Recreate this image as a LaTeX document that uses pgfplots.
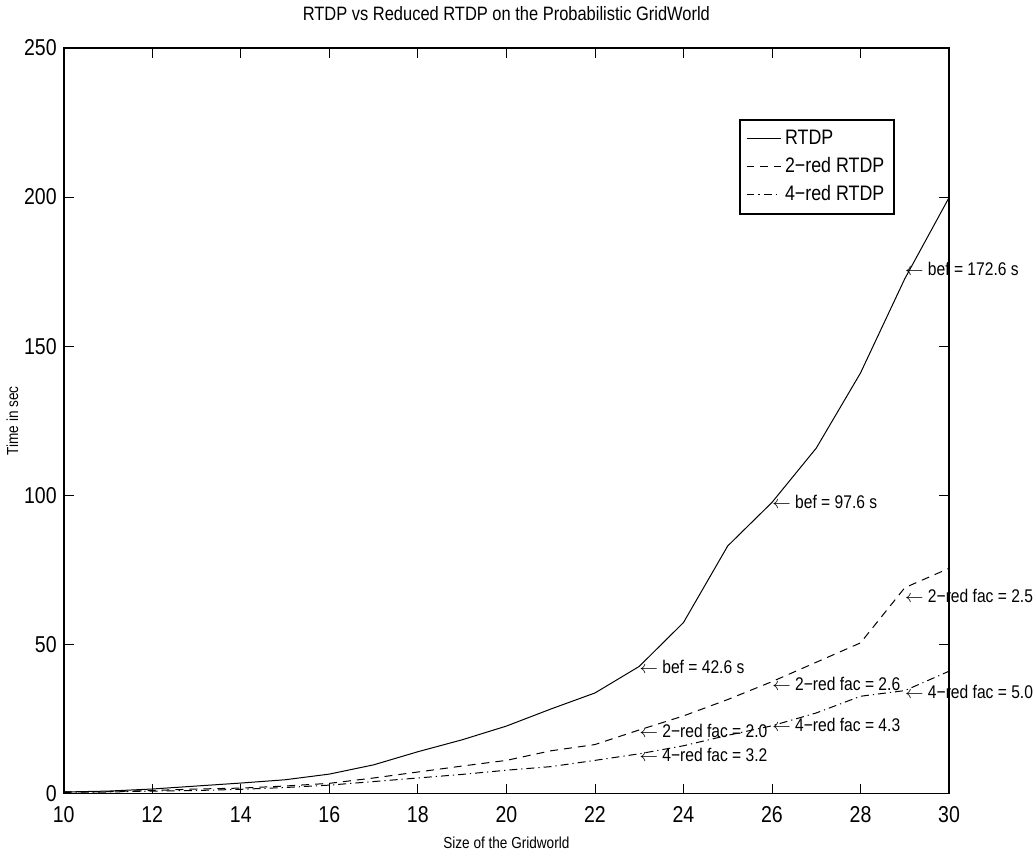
\documentclass[border=0pt]{standalone}
\usepackage{fontspec}
\setmainfont{Liberation Sans}[FakeStretch=0.85]
\usepackage{pgfplots}
\pgfplotsset{compat=1.18}

\begin{document}
\begin{tikzpicture}
\begin{axis}[
  width=443.5pt, height=373.5pt,
  scale only axis,
  xmin=10, xmax=30, ymin=0, ymax=250,
  xtick={10,12,...,30},
  ytick={0,50,...,250},
  tick align=inside,
  major tick length=5pt,
  tick style={black, line width=0.4pt},
  axis line style={line width=0.9pt},
  /pgf/number format/assume math mode=true,
  ticklabel style={font=\fontsize{11.5}{13}\selectfont},
  xticklabel style={yshift=-3pt},
  title={RTDP vs Reduced RTDP on the Probabilistic GridWorld},
  title style={font=\fontsize{9.7}{11}\selectfont, yshift=4pt},
  xlabel={Size of the Gridworld},
  ylabel={Time in sec},
  xlabel style={font=\fontsize{8}{10}\selectfont, yshift=0pt},
  ylabel style={font=\fontsize{8}{10}\selectfont, yshift=-4pt},
  legend style={at={(0.939,0.904)}, anchor=north east, draw=black, line width=0.8pt,
    font=\fontsize{10.5}{12.5}\selectfont, row sep=1pt, inner sep=3pt},
  legend cell align=left,
  clip=false,
]
\addplot[black, line width=0.5pt] coordinates {
  (10,0.5) (11,0.8) (12,1.5) (13,2.5) (14,3.5) (15,4.6) (16,6.5) (17,9.6)
  (18,14) (19,18) (20,22.6) (21,28.3) (22,33.7) (23,42.6) (24,57.3) (25,83)
  (26,97.6) (27,115.8) (28,141) (29,172.6) (30,199.8)
};
\addplot[black, line width=0.5pt, dash pattern=on 4pt off 3pt] coordinates {
  (10,0.5) (11,0.6) (12,1.0) (13,1.5) (14,1.8) (15,2.5) (16,3.4) (17,5.2)
  (18,7.2) (19,9.2) (20,11.1) (21,14.3) (22,16.4) (23,21.3) (24,26) (25,31.5)
  (26,37.5) (27,44) (28,50.5) (29,69) (30,75.5)
};
\addplot[black, line width=0.5pt, dash pattern=on 4pt off 2pt on 0.6pt off 2pt] coordinates {
  (10,0.4) (11,0.5) (12,0.8) (13,1.0) (14,1.4) (15,2.0) (16,2.8) (17,4.0)
  (18,5.2) (19,6.4) (20,7.8) (21,9.0) (22,11.1) (23,13.3) (24,16) (25,19.5)
  (26,22.7) (27,27) (28,32.6) (29,34.5) (30,41)
};
\legend{RTDP,2\textminus red RTDP,4\textminus red RTDP}
\begin{scope}[every node/.style={anchor=west, inner sep=0pt, font=\fontsize{9.2}{11}\selectfont}]
\node at (axis cs:29,176) {$\leftarrow$ bef = 172.6 s};
\node at (axis cs:26,97.6) {$\leftarrow$ bef = 97.6 s};
\node at (axis cs:23,42.6) {$\leftarrow$ bef = 42.6 s};
\node at (axis cs:29,66.3) {$\leftarrow$ 2\textminus red fac = 2.5};
\node at (axis cs:26,36.8) {$\leftarrow$ 2\textminus red fac = 2.6};
\node at (axis cs:23,20.9) {$\leftarrow$ 2\textminus red fac = 2.0};
\node at (axis cs:23,12.8) {$\leftarrow$ 4\textminus red fac = 3.2};
\node at (axis cs:26,22.9) {$\leftarrow$ 4\textminus red fac = 4.3};
\node at (axis cs:29,34) {$\leftarrow$ 4\textminus red fac = 5.0};
\end{scope}
\end{axis}
\end{tikzpicture}
\end{document}
